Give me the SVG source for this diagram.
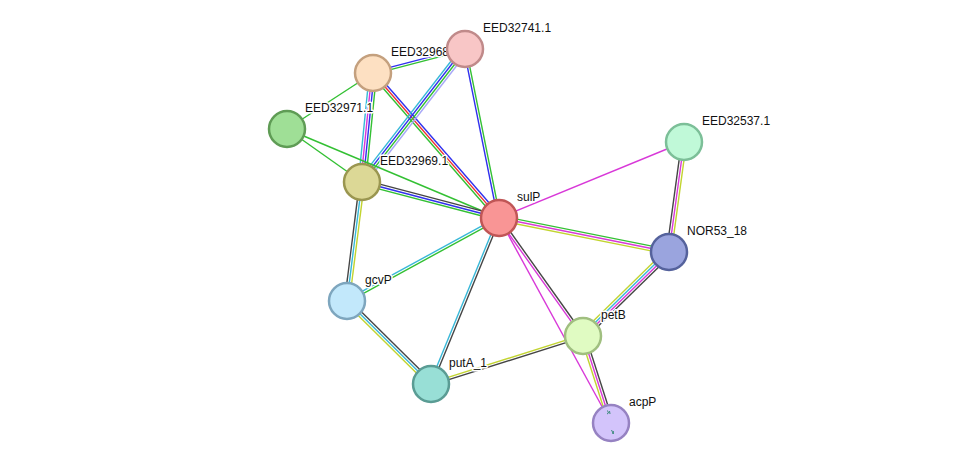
<svg xmlns="http://www.w3.org/2000/svg" width="975" height="469" viewBox="0 0 975 469">
<style>
line{stroke-width:1.4;fill:none}
.bl{stroke:#3030ee}.gr{stroke:#33c033}.rd{stroke:#ee3030}.mg{stroke:#d838d8}.cy{stroke:#38b8d8}
.yg{stroke:#c2d430}.dk{stroke:#454545}.lv{stroke:#a8a8f8}
.n circle{stroke-width:2.5}
.n text{font-family:"Liberation Sans",Arial,sans-serif;font-size:12px;fill:#111;stroke:#fff;stroke-width:3;stroke-linejoin:round;paint-order:stroke}
</style>
<rect width="975" height="469" fill="#fff"/>
<g id="edges">
<g transform="translate(373,73) rotate(-14.62)"><line class="bl" x1="0" y1="-1.2" x2="95" y2="-1.2"/><line class="gr" x1="0" y1="1.2" x2="95" y2="1.2"/></g>
<g transform="translate(373,73) rotate(146.93)"><line class="gr" x1="0" y1="0" x2="102.6" y2="0"/></g>
<g transform="translate(373,73) rotate(95.76)"><line class="cy" x1="0" y1="3.6" x2="109.5" y2="3.6"/><line class="mg" x1="0" y1="1.2" x2="109.5" y2="1.2"/><line class="bl" x1="0" y1="-1.2" x2="109.5" y2="-1.2"/><line class="gr" x1="0" y1="-3.6" x2="109.5" y2="-3.6"/></g>
<g transform="translate(373,73) rotate(49)"><line class="bl" x1="0" y1="-2.4" x2="192" y2="-2.4"/><line class="rd" x1="0" y1="0" x2="192" y2="0"/><line class="gr" x1="0" y1="2.4" x2="192" y2="2.4"/></g>
<g transform="translate(465,49) rotate(127.75)"><line class="cy" x1="0" y1="3.6" x2="168" y2="3.6"/><line class="bl" x1="0" y1="1.2" x2="168" y2="1.2"/><line class="gr" x1="0" y1="-1.2" x2="168" y2="-1.2"/><line class="lv" x1="0" y1="-3.6" x2="168" y2="-3.6"/></g>
<g transform="translate(465,49) rotate(78.62)"><line class="bl" x1="0" y1="1.2" x2="172.4" y2="1.2"/><line class="gr" x1="0" y1="-1.2" x2="172.4" y2="-1.2"/></g>
<g transform="translate(287,129) rotate(35.25)"><line class="gr" x1="0" y1="0" x2="91.8" y2="0"/></g>
<g transform="translate(287,129) rotate(22.77)"><line class="gr" x1="0" y1="0" x2="230" y2="0"/></g>
<g transform="translate(362,182) rotate(14.72)"><line class="dk" x1="0" y1="-2.4" x2="141.6" y2="-2.4"/><line class="bl" x1="0" y1="0" x2="141.6" y2="0"/><line class="gr" x1="0" y1="2.4" x2="141.6" y2="2.4"/></g>
<g transform="translate(362,182) rotate(97.18)"><line class="dk" x1="0" y1="2.4" x2="120" y2="2.4"/><line class="cy" x1="0" y1="0" x2="120" y2="0"/><line class="yg" x1="0" y1="-2.4" x2="120" y2="-2.4"/></g>
<g transform="translate(499,218) rotate(-22.33)"><line class="mg" x1="0" y1="0" x2="200" y2="0"/></g>
<g transform="translate(499,218) rotate(11.31)"><line class="gr" x1="0" y1="-2.4" x2="173.4" y2="-2.4"/><line class="mg" x1="0" y1="0" x2="173.4" y2="0"/><line class="yg" x1="0" y1="2.4" x2="173.4" y2="2.4"/></g>
<g transform="translate(684,142) rotate(97.77)"><line class="dk" x1="0" y1="2.4" x2="111" y2="2.4"/><line class="mg" x1="0" y1="0" x2="111" y2="0"/><line class="yg" x1="0" y1="-2.4" x2="111" y2="-2.4"/></g>
<g transform="translate(669,252) rotate(135.67)"><line class="yg" x1="0" y1="3.6" x2="120.2" y2="3.6"/><line class="cy" x1="0" y1="1.2" x2="120.2" y2="1.2"/><line class="mg" x1="0" y1="-1.2" x2="120.2" y2="-1.2"/><line class="dk" x1="0" y1="-3.6" x2="120.2" y2="-3.6"/></g>
<g transform="translate(499,218) rotate(151.36)"><line class="cy" x1="0" y1="1.2" x2="173.2" y2="1.2"/><line class="gr" x1="0" y1="-1.2" x2="173.2" y2="-1.2"/></g>
<g transform="translate(499,218) rotate(112.28)"><line class="cy" x1="0" y1="1.2" x2="179.4" y2="1.2"/><line class="dk" x1="0" y1="-1.2" x2="179.4" y2="-1.2"/></g>
<g transform="translate(499,218) rotate(54.55)"><line class="mg" x1="0" y1="1.2" x2="144.8" y2="1.2"/><line class="dk" x1="0" y1="-1.2" x2="144.8" y2="-1.2"/></g>
<g transform="translate(499,218) rotate(61.35)"><line class="mg" x1="0" y1="0" x2="233.6" y2="0"/></g>
<g transform="translate(347,301) rotate(44.66)"><line class="dk" x1="0" y1="-2.4" x2="118.1" y2="-2.4"/><line class="cy" x1="0" y1="0" x2="118.1" y2="0"/><line class="yg" x1="0" y1="2.4" x2="118.1" y2="2.4"/></g>
<g transform="translate(431,384) rotate(-17.53)"><line class="yg" x1="0" y1="-1.2" x2="159.4" y2="-1.2"/><line class="dk" x1="0" y1="1.2" x2="159.4" y2="1.2"/></g>
<g transform="translate(583,336) rotate(72.16)"><line class="yg" x1="0" y1="2.4" x2="91.4" y2="2.4"/><line class="mg" x1="0" y1="0" x2="91.4" y2="0"/><line class="dk" x1="0" y1="-2.4" x2="91.4" y2="-2.4"/></g>
</g>
<g id="node-EED32971.1" class="n"><circle cx="287" cy="129" r="18" fill="#9fdf96" stroke="#5f9c55"/><text x="305" y="112">EED32971.1</text></g>
<g id="node-EED32968.1" class="n"><circle cx="373" cy="73" r="18" fill="#fde0c2" stroke="#c4a07e"/><text x="391" y="56">EED32968.1</text></g>
<g id="node-EED32741.1" class="n"><circle cx="465" cy="49" r="18" fill="#f8c6c6" stroke="#c08a8a"/><text x="483" y="32">EED32741.1</text></g>
<g id="node-EED32969.1" class="n"><circle cx="362" cy="182" r="18" fill="#dcd896" stroke="#9a9650"/><text x="380" y="165">EED32969.1</text></g>
<g id="node-sulP" class="n"><circle cx="499" cy="218" r="18" fill="#f99595" stroke="#c05656"/><text x="517" y="201">sulP</text></g>
<g id="node-EED32537.1" class="n"><circle cx="684" cy="142" r="18" fill="#c0f9d8" stroke="#7cbf98"/><text x="702" y="125">EED32537.1</text></g>
<g id="node-NOR53_18" class="n"><circle cx="669" cy="252" r="18" fill="#9aa4de" stroke="#55629c"/><text x="687" y="235">NOR53_18</text></g>
<g id="node-gcvP" class="n"><circle cx="347" cy="301" r="18" fill="#c2e8fb" stroke="#7ea6be"/><text x="365" y="284">gcvP</text></g>
<g id="node-petB" class="n"><circle cx="583" cy="336" r="18" fill="#e0fbc2" stroke="#a0bf80"/><text x="601" y="319">petB</text></g>
<g id="node-putA_1" class="n"><circle cx="431" cy="384" r="18" fill="#98dfd6" stroke="#5a9c94"/><text x="449" y="367">putA_1</text></g>
<g id="node-acpP" class="n"><circle cx="611" cy="423" r="18" fill="#d3c4fb" stroke="#9682c2"/><path d="M607.5 410.5l1 2.5l-1.5 1M609.5 411l0.5 3M611 430.5l3 1.5l-2 1l2 0.5" fill="none" stroke="#3a8a7a" stroke-width="1"/><text x="629" y="406">acpP</text></g>
</svg>
